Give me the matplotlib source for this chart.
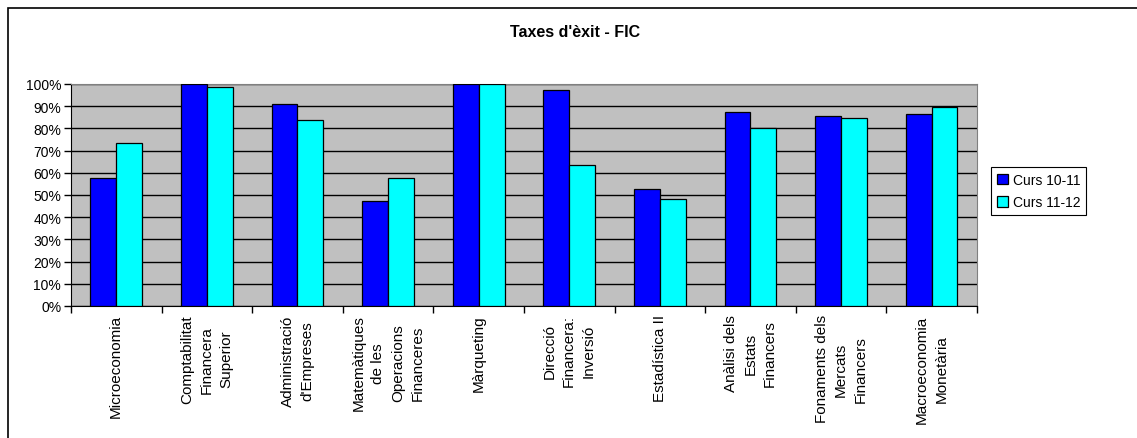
import matplotlib
matplotlib.use("Agg")
import matplotlib.pyplot as plt
from matplotlib.patches import Rectangle
import numpy as np

plt.rcParams['font.family'] = ['Liberation Sans', 'DejaVu Sans']

# Subjects (x labels) and success rates per course year (%)
subjects = [
    "Microeconomia",
    "Comptabilitat\nFinancera\nSuperior",
    "Administració\nd'Empreses",
    "Matemàtiques\nde les\nOperacions\nFinanceres",
    "Màrqueting",
    "Direcció\nFinancera:\nInversió",
    "Estadística II",
    "Anàlisi dels\nEstats\nFinancers",
    "Fonaments dels\nMercats\nFinancers",
    "Macroeconomia\nMonetària",
]
curs_10_11 = [57.7, 100.0, 91.0, 47.4, 100.0, 97.4, 52.7, 87.2, 85.8, 86.4]
curs_11_12 = [73.6, 98.5, 83.9, 57.7, 100.0, 63.4, 48.0, 80.0, 84.6, 89.6]
series_names = ["Curs 10-11", "Curs 11-12"]

fig = plt.figure(figsize=(11.37, 4.39), dpi=100)
ax = fig.add_axes([0.0624, 0.3007, 0.7968, 0.5057])

x = np.arange(len(subjects))
w = 0.2857
ax.bar(x - w / 2, curs_10_11, w, color='#0000FF', edgecolor='black', linewidth=0.9,
       label=series_names[0], zorder=3)
ax.bar(x + w / 2, curs_11_12, w, color='#00FFFF', edgecolor='black', linewidth=0.9,
       label=series_names[1], zorder=3)

ax.set_facecolor('#C0C0C0')
ax.set_xlim(-0.5, len(subjects) - 0.5)
ax.set_ylim(0, 100)
ax.set_yticks(np.arange(0, 101, 10))
ax.set_yticklabels([f"{v}%" for v in range(0, 101, 10)], fontsize=10)
ax.yaxis.grid(True, color='black', linewidth=1, zorder=1)
ax.set_axisbelow(True)

ax.set_xticks(x)
ax.set_xticklabels(subjects, rotation=90, fontsize=11, linespacing=1.5,
                   multialignment='center')
ax.set_xticks(np.arange(-0.5, len(subjects)), minor=True)
ax.tick_params(axis='x', which='major', length=0, pad=6)
ax.tick_params(axis='x', which='minor', length=5, width=1, color='black')
ax.tick_params(axis='y', length=5, width=1, pad=2)

for side in ['top', 'right']:
    ax.spines[side].set_color('#808080')
for side in ['left', 'bottom']:
    ax.spines[side].set_color('black')

fig.text(0.5055, 0.927, "Taxes d'èxit - FIC", ha='center', va='center',
         fontsize=11.5, fontweight='bold')

leg = fig.legend(loc='upper left', bbox_to_anchor=(0.8716, 0.617), fontsize=10,
                 frameon=True, fancybox=False, edgecolor='black', framealpha=1,
                 borderaxespad=0, handlelength=0.8, handleheight=0.8,
                 handletextpad=0.4, borderpad=0.4, labelspacing=0.6)
leg.get_frame().set_linewidth(0.8)

# outer chart border
fig.patches.append(Rectangle((8 / 1137, -0.05), 1.2, 1 - 9 / 439 + 0.05,
                             transform=fig.transFigure, fill=False,
                             edgecolor='black', linewidth=1.2))

fig.savefig("out.png", dpi=100)
